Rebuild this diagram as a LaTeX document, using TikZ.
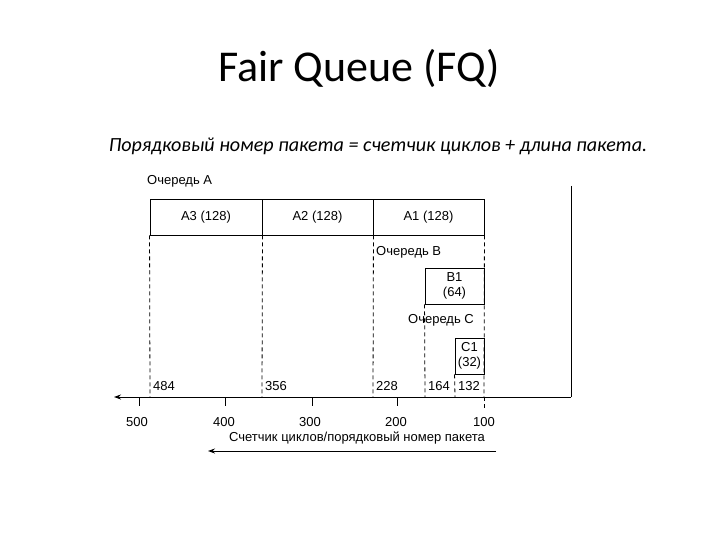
\documentclass[tikz,border=0pt]{standalone}
\usepackage{fontspec}
\setmainfont{Liberation Sans}
\newfontfamily\calib{Carlito}
\usetikzlibrary{arrows.meta}
\begin{document}
\begin{tikzpicture}[x=1pt,y=-1pt,
  lbl/.style={font=\fontsize{13}{14}\selectfont, inner sep=0pt},
  pkt/.style={draw, line width=0.9pt, font=\fontsize{13}{15}\selectfont, inner sep=0pt, align=center},
  guide/.style={line width=0.8pt, dash pattern=on 4pt off 3pt},
  axisline/.style={line width=0.9pt},
  tick/.style={line width=0.9pt}]
\useasboundingbox (0,0) rectangle (720,540);
% title
\node (title) at (359,68) {\calib\fontsize{44}{46}\selectfont Fair Queue (FQ)};
\node (sub) at (378,146) {\calib\itshape\fontsize{20.1}{22}\selectfont Порядковый номер пакета = счетчик циклов + длина пакета.};
% queue A
\node[lbl, anchor=west] (qa) at (147,181) {Очередь А};
\node[pkt, minimum width=112pt, minimum height=36pt] (a3) at (206,217) {A3 (128)};
\node[pkt, minimum width=111pt, minimum height=36pt] (a2) at (317.5,217) {A2 (128)};
\node[pkt, minimum width=111pt, minimum height=36pt] (a1) at (428.5,217) {A1 (128)};
% queue B
\node[lbl, anchor=west] (qb) at (376,252) {Очередь В};
\node[pkt, minimum width=59pt, minimum height=36pt] (b1) at (454.5,286) {B1\\(64)};
% queue C
\node[lbl] (qc) at (441,320) {Очередь С};
\node[pkt, minimum width=29pt, minimum height=36pt] (c1) at (469.5,356) {C1\\(32)};
% axis
\coordinate (axR) at (571,397);
\coordinate (axL) at (114,397);
\coordinate (vtop) at (571,186);
\draw[axisline] (vtop) -- (axR);
\draw[axisline, -{Stealth[length=7pt,width=5pt]}] (axR) -- (axL);
% dashed guides
\coordinate (g484) at (150,397);
\coordinate (g356) at (262,397);
\coordinate (g228) at (373,397);
\coordinate (g164) at (425,397);
\coordinate (g132) at (455,397);
\coordinate (g100) at (484,397);
\draw[guide] (a3.south west) -- (g484);
\draw[guide] (a3.south east) -- (g356);
\draw[guide] (a2.south east) -- (g228);
\draw[guide] (a1.south east) -- (g100);
\draw[guide] (b1.south west) -- (g164);
\draw[guide] (c1.south west) -- (g132);
\draw[guide] (g100) -- ++(0,12);
% value labels
\node[lbl, anchor=south west] (v484) at (153,391) {484};
\node[lbl, anchor=south west] (v356) at (265,391) {356};
\node[lbl, anchor=south west] (v228) at (376,391) {228};
\node[lbl, anchor=south west] (v164) at (428,391) {164};
\node[lbl, anchor=south west] (v132) at (458,391) {132};
% ticks
\foreach \xx in {139,225,312,397} {
  \draw[tick] (\xx,397) -- (\xx,406);
}
\node[lbl] (t500) at (137,422) {500};
\node[lbl] (t400) at (224,422) {400};
\node[lbl] (t300) at (310,422) {300};
\node[lbl] (t200) at (396,422) {200};
\node[lbl] (t100) at (484,422) {100};
% axis caption
\node[lbl] (cap) at (357,438) {Счетчик циклов/порядковый номер пакета};
\coordinate (arrR) at (496,451);
\coordinate (arrL) at (208,451);
\draw[axisline, -{Stealth[length=7pt,width=5pt]}] (arrR) -- (arrL);
\end{tikzpicture}
\end{document}
